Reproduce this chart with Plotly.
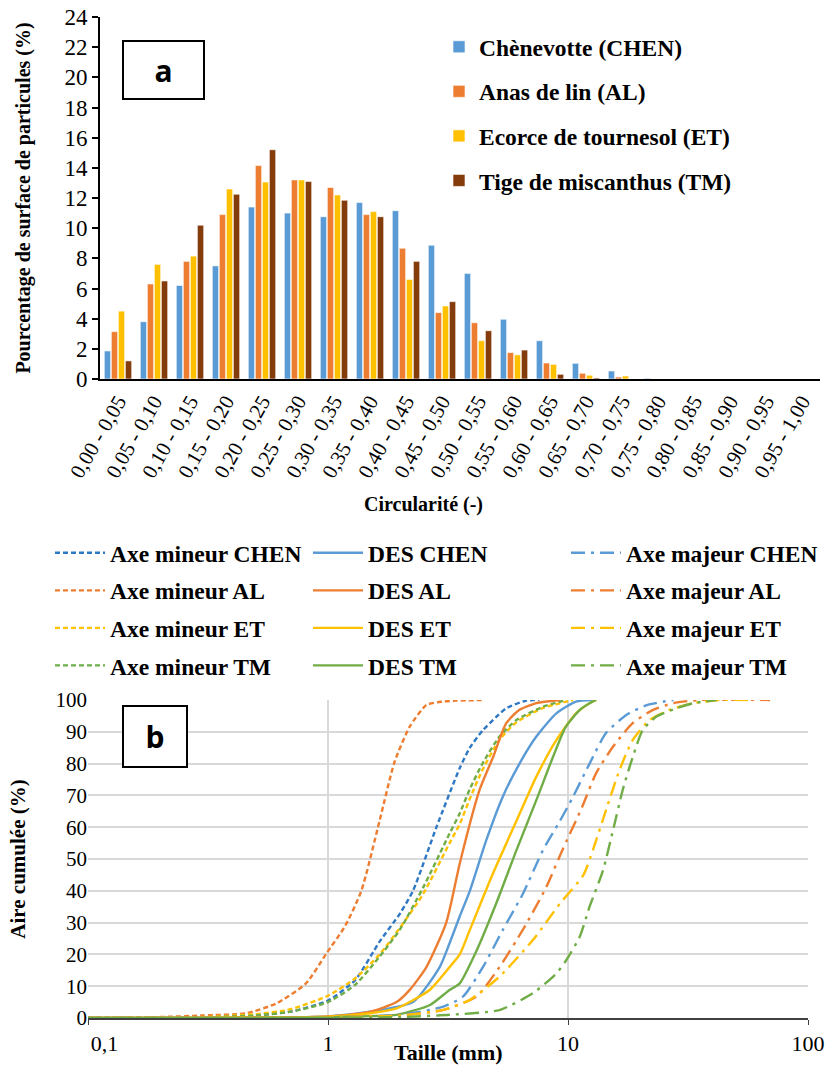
import plotly.graph_objects as go

# ---------------- Data: panel a (bars) ----------------
categories = ["0,00 - 0,05", "0,05 - 0,10", "0,10 - 0,15", "0,15 - 0,20", "0,20 - 0,25",
              "0,25 - 0,30", "0,30 - 0,35", "0,35 - 0,40", "0,40 - 0,45", "0,45 - 0,50",
              "0,50 - 0,55", "0,55 - 0,60", "0,60 - 0,65", "0,65 - 0,70", "0,70 - 0,75",
              "0,75 - 0,80", "0,80 - 0,85", "0,85 - 0,90", "0,90 - 0,95", "0,95 - 1,00"]
chen_pct = [1.86, 3.8, 6.2, 7.5, 11.4, 11.0, 10.76, 11.7, 11.16, 8.87, 7.0, 3.96, 2.54, 1.04, 0.53, 0.05, 0, 0, 0, 0]
al_pct = [3.14, 6.3, 7.8, 10.9, 14.15, 13.2, 12.7, 10.9, 8.67, 4.4, 3.73, 1.75, 1.06, 0.38, 0.13, 0, 0, 0, 0, 0]
et_pct = [4.5, 7.6, 8.15, 12.6, 13.06, 13.2, 12.2, 11.1, 6.6, 4.84, 2.54, 1.6, 0.97, 0.25, 0.2, 0, 0, 0, 0, 0]
tm_pct = [1.2, 6.5, 10.2, 12.25, 15.2, 13.1, 11.85, 10.76, 7.8, 5.13, 3.2, 1.92, 0.31, 0.07, 0, 0, 0, 0, 0, 0]
bar_names = ["Chènevotte (CHEN)", "Anas de lin (AL)", "Ecorce de tournesol (ET)", "Tige de miscanthus (TM)"]
y_ticks_a = [0, 2, 4, 6, 8, 10, 12, 14, 16, 18, 20, 22, 24]

# ---------------- Data: panel b (cumulative curves) ----------------
mineur_chen_x = [0.1, 0.3, 0.5, 0.7, 1.0, 1.3, 1.64, 2.0, 2.26, 2.83, 3.54, 3.9, 4.42, 5.0, 5.53, 6.7, 7.6]
mineur_chen_y = [0, 0.2, 0.8, 2, 5.5, 12, 24, 33, 40, 60, 78.6, 85, 90.5, 94.5, 97.4, 99.8, 100]
mineur_al_x = [0.1, 0.2, 0.3, 0.457, 0.61, 0.81, 0.985, 1.18, 1.377, 1.64, 1.895, 2.19, 2.57, 3.0, 3.43, 4.5]
mineur_al_y = [0, 0.3, 0.8, 1.5, 4.6, 10.9, 20.3, 29, 40, 62, 80.6, 91.6, 98.4, 99.5, 99.8, 100]
mineur_et_x = [0.1, 0.3, 0.5, 0.7, 1.0, 1.3, 1.64, 2.0, 2.49, 3.21, 3.54, 3.9, 4.4, 5.18, 6.1, 7.87, 10.5]
mineur_et_y = [0, 0.3, 1.2, 2.8, 7, 12.5, 20, 28.5, 39, 55, 61, 69, 78, 87.5, 93, 97.5, 100]
mineur_tm_x = [0.1, 0.3, 0.5, 0.7, 1.0, 1.3, 1.64, 2.0, 2.49, 3.21, 3.54, 3.9, 4.4, 5.18, 6.1, 7.87, 9.8]
mineur_tm_y = [0, 0.2, 0.8, 2, 5, 10.5, 19.3, 28, 41, 58, 64.4, 72, 80, 88.5, 93.7, 97.9, 100]

des_chen_x = [0.1, 0.5, 1.0, 1.5, 2.26, 2.92, 3.21, 3.54, 3.9, 4.57, 5.35, 6.28, 7.38, 8.94, 10.8, 12.7]
des_chen_y = [0, 0.1, 0.5, 2, 5, 16, 23.5, 32, 40, 56, 69.6, 80, 88.5, 95.8, 99.5, 100]
des_al_x = [0.1, 0.5, 1.0, 1.5, 1.93, 2.2, 2.57, 3.11, 3.54, 4.28, 4.87, 5.53, 6.28, 7.38, 9.26]
des_al_y = [0, 0.1, 0.5, 2, 5, 9, 16, 30, 48.6, 71.7, 82, 92.7, 96.9, 99, 100]
des_et_x = [0.1, 0.5, 1.0, 1.5, 1.93, 2.65, 3.21, 3.54, 3.9, 4.87, 6.1, 7.38, 8.94, 10.8, 12.3, 13.1]
des_et_y = [0, 0.1, 0.4, 1.5, 3, 8.8, 16, 20, 27.7, 45.5, 62, 75.9, 87.4, 95.8, 99, 100]
des_tm_x = [0.1, 0.5, 1.0, 1.5, 1.93, 2.65, 3.21, 3.54, 4.15, 5.02, 6.1, 7.38, 8.65, 9.8, 11.2, 12.3, 13.1]
des_tm_y = [0, 0.05, 0.2, 0.6, 1, 4, 8.8, 10.9, 21, 36, 52.8, 68.5, 82, 91.6, 96.9, 99, 100]

majeur_chen_x = [0.1, 1.0, 2.0, 3.0, 3.65, 4.42, 5.35, 6.48, 7.87, 9.26, 10.5, 12.3, 14.4, 17.5, 21.3, 27.5]
majeur_chen_y = [0, 0.2, 1, 3.5, 6.7, 16, 27.7, 39, 52.8, 62, 69.6, 80, 89.6, 95.3, 98.4, 100]
majeur_al_x = [0.1, 1.0, 2.0, 3.0, 4.15, 5.18, 6.48, 8.1, 9.5, 11.4, 13.1, 15.4, 18.6, 22.6, 27.5, 35.3, 69.5]
majeur_al_y = [0, 0.2, 0.8, 2.5, 6.7, 16, 27.7, 41, 53, 66, 77, 85.3, 92.7, 96.9, 99, 100, 100]
majeur_et_x = [0.1, 1.0, 2.0, 3.0, 3.9, 5.18, 7.14, 9.26, 11.6, 12.7, 14.4, 16.4, 18.6, 21.9, 26.5, 33.3, 42.7, 57]
majeur_et_y = [0, 0.2, 0.8, 2.5, 5.7, 13, 24.5, 36, 45, 52.8, 65.4, 78, 87.4, 93.7, 96.9, 99, 100, 100]
majeur_tm_x = [0.1, 1.0, 2.0, 3.21, 5.18, 7.14, 8.94, 9.8, 11.2, 12.3, 14.0, 15.4, 16.9, 18.6, 20.5, 23.3, 28.3, 33.3, 41.6]
majeur_tm_y = [0, 0.1, 0.3, 1, 2.5, 7.8, 14, 18, 25.6, 35, 46.5, 59, 71.7, 82, 90.6, 94.7, 97.4, 99, 100]

x_tickvals_b = [0.1, 1, 10, 100]
x_ticktext_b = ["0,1", "1", "10", "100"]
y_ticks_b = [0, 10, 20, 30, 40, 50, 60, 70, 80, 90, 100]

# ---------------- Styles ----------------
W, H = 829, 1066
SERIF = "Liberation Serif"
SANS = "Open Sans"
BLUE, ORANGE, GOLD, GREEN, BROWN = "#5B9BD5", "#ED7D31", "#FFC000", "#70AD47", "#843C0C"
DBLUE = "#2F78C4"

def px_x(p):
    return p / W

def px_y(p):
    return 1 - p / H

fig = go.Figure()

bar_series = [chen_pct, al_pct, et_pct, tm_pct]
bar_colors = [BLUE, ORANGE, GOLD, BROWN]
for i, (name, vals, col) in enumerate(zip(bar_names, bar_series, bar_colors)):
    fig.add_trace(go.Bar(
        x=categories, y=vals, name=name, marker=dict(color=col, line=dict(color="white", width=0.6)),
        xaxis="x", yaxis="y", legend="legend", legendgroup="a%d" % i,
    ))

curves = [
    ("Axe mineur CHEN", mineur_chen_x, mineur_chen_y, DBLUE, "dash", "legend2"),
    ("Axe mineur AL", mineur_al_x, mineur_al_y, ORANGE, "dash", "legend2"),
    ("Axe mineur ET", mineur_et_x, mineur_et_y, GOLD, "dash", "legend2"),
    ("Axe mineur TM", mineur_tm_x, mineur_tm_y, GREEN, "dash", "legend2"),
    ("DES CHEN", des_chen_x, des_chen_y, BLUE, "solid", "legend3"),
    ("DES AL", des_al_x, des_al_y, ORANGE, "solid", "legend3"),
    ("DES ET", des_et_x, des_et_y, GOLD, "solid", "legend3"),
    ("DES TM", des_tm_x, des_tm_y, GREEN, "solid", "legend3"),
    ("Axe majeur CHEN", majeur_chen_x, majeur_chen_y, BLUE, "dashdot", "legend4"),
    ("Axe majeur AL", majeur_al_x, majeur_al_y, ORANGE, "dashdot", "legend4"),
    ("Axe majeur ET", majeur_et_x, majeur_et_y, GOLD, "dashdot", "legend4"),
    ("Axe majeur TM", majeur_tm_x, majeur_tm_y, GREEN, "dashdot", "legend4"),
]
dash_map = {"dash": "5px,3px", "solid": "solid", "dashdot": "14px,6px,3px,6px"}
for j, (name, xs, ys, col, dsh, leg) in enumerate(curves):
    fig.add_trace(go.Scatter(
        x=xs, y=ys, name=name, mode="lines",
        line=dict(color=col, width=2.4, dash=dash_map[dsh], shape="spline", smoothing=0.6),
        xaxis="x2", yaxis="y2", legend=leg, legendgroup="b%d" % j,
    ))

LEG_SIZE = 23.5
legend_font = dict(family=SERIF, size=LEG_SIZE, color="black", weight="bold")
leg_common = dict(bgcolor="rgba(0,0,0,0)", xanchor="left", yanchor="top", traceorder="grouped", font=legend_font)

# the first tick label sits a little inside the plot in the original
x_ticktext_shown = ["\u00a0" * 6 + x_ticktext_b[0]] + x_ticktext_b[1:]

fig.update_layout(
    width=W, height=H,
    margin=dict(l=0, r=0, t=0, b=0, autoexpand=False),
    paper_bgcolor="white", plot_bgcolor="white",
    separators=", ",
    barmode="group", bargap=0.22, bargroupgap=0.1,
    showlegend=True,
    legend=dict(x=px_x(439), y=px_y(25), tracegroupgap=11, itemwidth=30, **leg_common),
    legend2=dict(x=px_x(50), y=px_y(531), tracegroupgap=4, itemwidth=50, **leg_common),
    legend3=dict(x=px_x(308), y=px_y(531), tracegroupgap=4, itemwidth=50, **leg_common),
    legend4=dict(x=px_x(566), y=px_y(531), tracegroupgap=4, itemwidth=50, **leg_common),
    xaxis=dict(
        domain=[px_x(100), px_x(820)], anchor="y", type="category", automargin=False,
        showline=True, linecolor="black", linewidth=2, ticks="", tickangle=-60,
        tickfont=dict(family=SERIF, size=21, color="black"),
        showgrid=False, zeroline=False,
    ),
    yaxis=dict(
        domain=[px_y(379), px_y(17)], anchor="x", range=[0, 24], tickvals=y_ticks_a, automargin=False,
        ticklabeloverflow="allow",
        showline=True, linecolor="black", linewidth=2, ticks="outside", ticklen=6, tickwidth=1.5, tickcolor="black",
        tickfont=dict(family=SERIF, size=23, color="black"),
        title=dict(text="Pourcentage de surface de particules (%)",
                   font=dict(family=SERIF, size=20, color="black", weight="bold"), standoff=28),
        showgrid=False, zeroline=False,
    ),
    xaxis2=dict(
        domain=[px_x(88), px_x(808)], anchor="y2", type="log", range=[-1, 2], automargin=False,
        ticklabeloverflow="allow",
        tickvals=x_tickvals_b, ticktext=x_ticktext_shown,
        showline=True, linecolor="#404040", linewidth=2, ticks="outside", ticklen=5, tickcolor="#404040",
        tickfont=dict(family=SERIF, size=22, color="black"),
        showgrid=True, gridcolor="#D9D9D9", gridwidth=1.5,
        zeroline=False,
    ),
    yaxis2=dict(
        domain=[px_y(1018), px_y(700)], anchor="x2", range=[0, 100], tickvals=y_ticks_b, automargin=False,
        ticklabeloverflow="allow",
        showline=False, ticks="",
        tickfont=dict(family=SERIF, size=21, color="black"),
        showgrid=True, gridcolor="#D9D9D9", gridwidth=1.5,
        title=dict(text="Aire cumulée (%)", font=dict(family=SERIF, size=21, color="black", weight="bold"), standoff=24),
        zeroline=False,
    ),
)

# x-axis titles placed where the original puts them
fig.add_annotation(xref="paper", yref="paper", x=px_x(423), y=px_y(505), xanchor="center", yanchor="middle",
                   text="Circularité (-)", showarrow=False,
                   font=dict(family=SERIF, size=20, color="black", weight="bold"))
fig.add_annotation(xref="paper", yref="paper", x=px_x(449), y=px_y(1052), xanchor="center", yanchor="middle",
                   text="Taille (mm)", showarrow=False,
                   font=dict(family=SERIF, size=22, color="black", weight="bold"))

# Panel labels "a" and "b"
fig.add_annotation(xref="paper", yref="paper", x=px_x(163.5), y=px_y(70), xanchor="center", yanchor="middle",
                   text="a", showarrow=False,
                   width=79, height=56, bgcolor="white", bordercolor="black", borderwidth=2, borderpad=0,
                   font=dict(family=SANS, size=30, color="black", weight="bold"))
fig.add_annotation(xref="paper", yref="paper", x=px_x(155), y=px_y(736.5), xanchor="center", yanchor="middle",
                   text="b", showarrow=False,
                   width=62, height=59, bgcolor="white", bordercolor="black", borderwidth=2, borderpad=0,
                   font=dict(family=SANS, size=30, color="black", weight="bold"))

fig.write_html("out.html", config={"displayModeBar": False},
               post_script="document.body.style.margin='0';")
